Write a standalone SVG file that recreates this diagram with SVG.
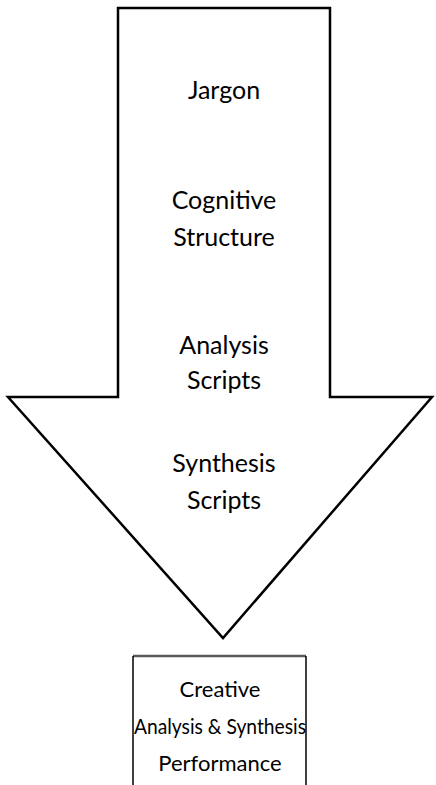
<svg xmlns="http://www.w3.org/2000/svg" width="436" height="785" viewBox="0 0 436 785">
<style>
.t{font-family:Lato,"Open Sans","Liberation Sans",sans-serif;font-size:25px;fill:#000;text-anchor:middle}
.b{font-size:22px}
.shape{fill:#fff;stroke:#000;stroke-width:2.5;stroke-linejoin:miter}
</style>
<rect width="436" height="785" fill="#fff"/>
<g id="arrow">
<path class="shape" d="M118,8 H330 V397 H432 L223,638 L8,397 H118 Z"/>
<text class="t" x="224" y="99">Jargon</text>
<text class="t" x="224" y="209">Cognitive</text>
<text class="t" x="224" y="246">Structure</text>
<text class="t" x="224" y="354">Analysis</text>
<text class="t" x="224" y="389">Scripts</text>
<text class="t" x="224" y="472">Synthesis</text>
<text class="t" x="224" y="509">Scripts</text>
</g>
<g id="result">
<line x1="133" y1="656" x2="306" y2="656" stroke="#595959" stroke-width="2.5"/>
<line x1="133" y1="656" x2="133" y2="785" stroke="#000" stroke-width="1.5"/>
<line x1="306" y1="656" x2="306" y2="785" stroke="#000" stroke-width="1.5"/>
<text class="t b" x="220" y="697">Creative</text>
<text class="t b" x="220" y="734" textLength="172" lengthAdjust="spacingAndGlyphs">Analysis &amp; Synthesis</text>
<text class="t b" x="220" y="771">Performance</text>
</g>
<g id="connectors"></g>
</svg>
